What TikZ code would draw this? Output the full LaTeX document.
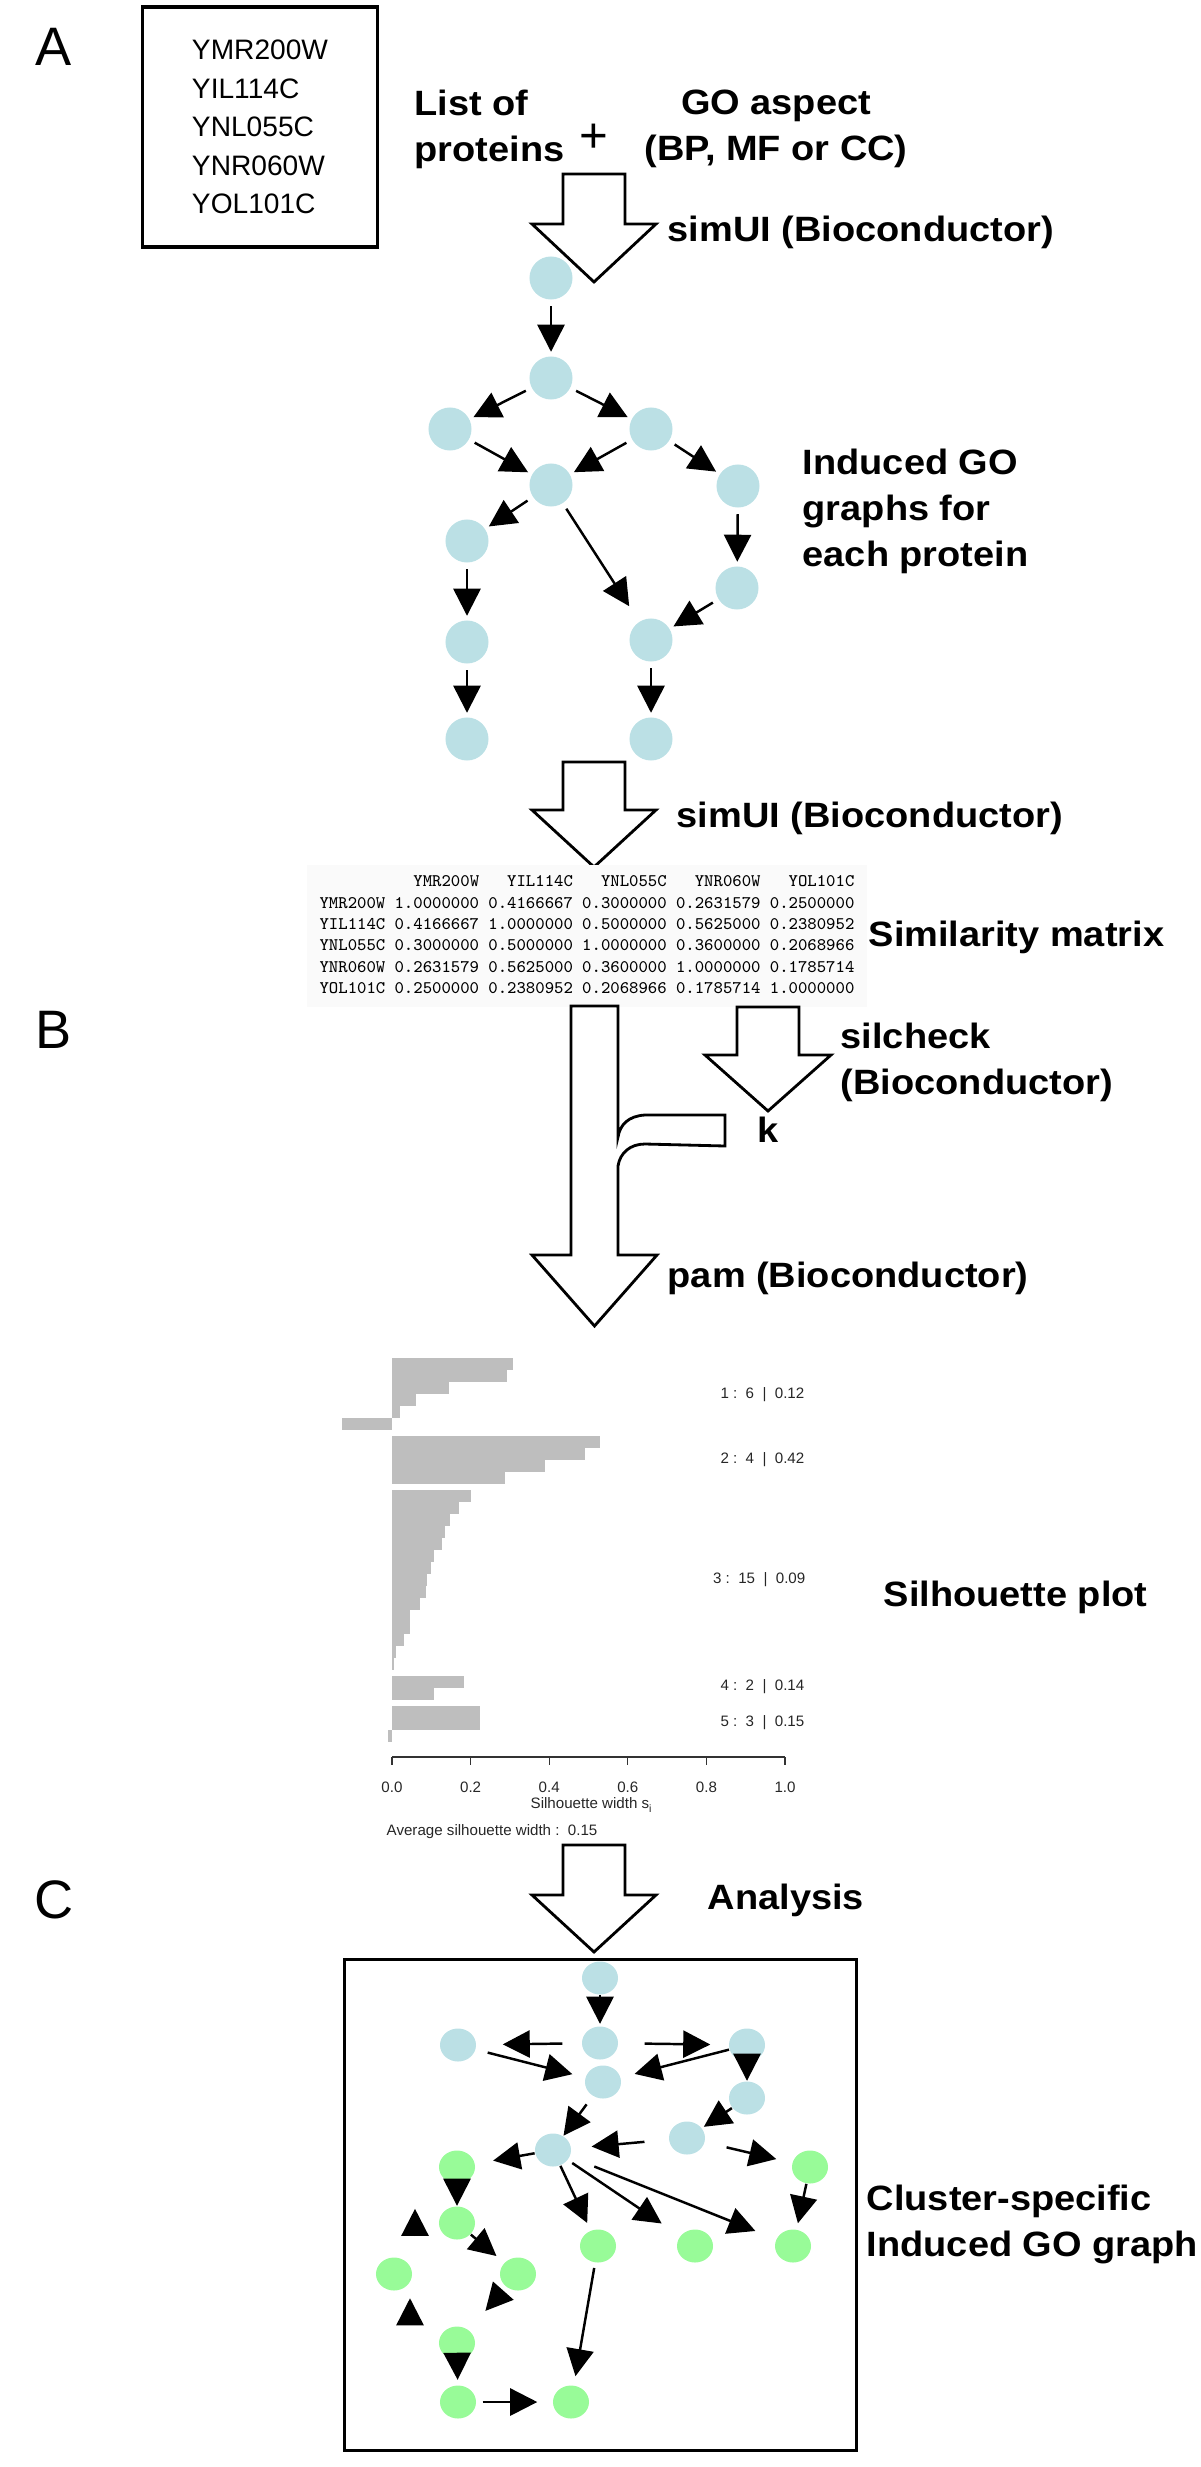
\documentclass[tikz,border=0pt]{standalone}
\usepackage{fontspec}
\setmainfont{Liberation Sans}
\newfontfamily\labelfont[FakeStretch=1.08]{Liberation Sans Bold}
\usetikzlibrary{arrows.meta}
\usetikzlibrary{positioning}
\usetikzlibrary{shapes.geometric}

\definecolor{goblue}{RGB}{187,224,229}
\definecolor{gogreen}{RGB}{152,251,152}
\definecolor{silgray}{RGB}{190,190,190}

\tikzset{
  % GO term of the induced graphs
  go term/.style = {
    circle,
    fill = goblue,
    minimum size = 0.43cm,
    inner sep = 0
  },
  % GO terms of the cluster graph
  cl term/.style = {
    ellipse,
    fill = goblue,
    minimum width = 0.36cm,
    minimum height = 0.33cm,
    inner sep = 0
  },
  cl hit/.style = {
    cl term,
    fill = gogreen
  },
  go edge/.style = {
    draw = black,
    line width = 0.7pt,
    -{Triangle[length=7.7pt, width=7.7pt]},
    shorten <= 0.06cm,
    shorten >= 0.04cm
  },
  % big white arrows between the steps
  flow/.style = {
    draw = black,
    fill = white,
    line width = 0.8pt
  }
}
\tikzset{
  step label/.style = {
    font = \labelfont\fontsize{10}{13.1}\selectfont,
    align = left,
    anchor = west,
    inner sep = 0
  },
  panel/.style = {
    font = \fontsize{15.4}{18}\selectfont,
    inner sep = 0
  },
  plot text/.style = {
    font = \fontsize{4.3}{5}\selectfont,
    text = black!85,
    inner sep = 0
  }
}

\begin{document}
\begin{tikzpicture}[x=0.01cm, y=-0.01cm]
    \useasboundingbox (0,0) rectangle (1200,2467);

    % A: input
    \node[panel] (panel-a) at (54,47) {A};
    \node[draw, line width=0.9pt, minimum width=2.35cm, minimum height=2.4cm,
      align=left, font=\fontsize{8}{10.95}\selectfont] (genes) at (260,127)
      {YMR200W\\YIL114C\\YNL055C\\YNR060W\\YOL101C};
    \node[step label] (proteins) at (414,129) {List of\\proteins};
    \node[font=\fontsize{14}{16}\selectfont, inner sep=0] (plus) at (594,138) {+};
    \node[step label, align=center, anchor=center] (aspect) at (776,129)
      {GO aspect\\(BP, MF or CC)};

    \coordinate (flow-1) at (594,174);
    \draw[flow] (flow-1) ++(-31,0) -- ++(62,0) -- ++(0,50) -- ++(31,0)
      -- ++(-62,58) -- ++(-62,-58) -- ++(31,0) -- cycle;
    \node[step label] (simui-1) at (667,232) {simUI (Bioconductor)};

    % induced GO graph
    \node[go term] (ga-1) at (551,278) {};
    \node[go term] (ga-2) at (551,378) {};
    \node[go term] (ga-3) at (450,429) {};
    \node[go term] (ga-4) at (651,429) {};
    \node[go term] (ga-5) at (551,485) {};
    \node[go term] (ga-6) at (738,486) {};
    \node[go term] (ga-7) at (467,541) {};
    \node[go term] (ga-8) at (737,588) {};
    \node[go term] (ga-9) at (467,642) {};
    \node[go term] (ga-10) at (651,640) {};
    \node[go term] (ga-11) at (467,739) {};
    \node[go term] (ga-12) at (651,739) {};

    \draw[go edge] (ga-1) -- (ga-2);
    \draw[go edge] (ga-2) -- (ga-3);
    \draw[go edge] (ga-2) -- (ga-4);
    \draw[go edge] (ga-3) -- (ga-5);
    \draw[go edge] (ga-4) -- (ga-5);
    \draw[go edge] (ga-4) -- (ga-6);
    \draw[go edge] (ga-5) -- (ga-7);
    \draw[go edge, shorten >=0.18cm] (ga-5) -- (ga-10);
    \draw[go edge] (ga-6) -- (ga-8);
    \draw[go edge] (ga-8) -- (ga-10);
    \draw[go edge] (ga-7) -- (ga-9);
    \draw[go edge] (ga-9) -- (ga-11);
    \draw[go edge] (ga-10) -- (ga-12);

    \node[step label] (induced) at (802,511) {Induced GO\\graphs for\\each protein};

    \coordinate (flow-2) at (594,762);
    \draw[flow] (flow-2) ++(-31,0) -- ++(62,0) -- ++(0,48) -- ++(31,0)
      -- ++(-62,57) -- ++(-62,-57) -- ++(31,0) -- cycle;
    \node[step label] (simui-2) at (676,818) {simUI (Bioconductor)};

    % similarity matrix
    \node[fill=black!2, inner xsep=3.6pt, inner ysep=2pt,
      font=\ttfamily\fontsize{5.03}{6.06}\selectfont] (simmatrix) at (587,936)
      {\setlength{\tabcolsep}{1.32pt}%
       \begin{tabular}{@{}l*{5}{r}@{}}
               & YMR200W   & YIL114C   & YNL055C   & YNR060W   & YOL101C\\
       YMR200W & 1.0000000 & 0.4166667 & 0.3000000 & 0.2631579 & 0.2500000\\
       YIL114C & 0.4166667 & 1.0000000 & 0.5000000 & 0.5625000 & 0.2380952\\
       YNL055C & 0.3000000 & 0.5000000 & 1.0000000 & 0.3600000 & 0.2068966\\
       YNR060W & 0.2631579 & 0.5625000 & 0.3600000 & 1.0000000 & 0.1785714\\
       YOL101C & 0.2500000 & 0.2380952 & 0.2068966 & 0.1785714 & 1.0000000
       \end{tabular}};
    \node[step label] (similarity) at (868,937) {Similarity matrix};

    % B: clustering
    \node[panel] (panel-b) at (54,1030) {B};

    \coordinate (flow-3) at (768,1007);
    \draw[flow] (flow-3) ++(-31,0) -- ++(62,0) -- ++(0,48) -- ++(32,0)
      -- ++(-63,56) -- ++(-63,-56) -- ++(32,0) -- cycle;
    \node[step label] (silcheck) at (840,1062) {silcheck\\(Bioconductor)};
    \node[step label, anchor=center] (k) at (768,1130) {k};

    \coordinate (flow-4) at (571,1006);
    \draw[flow] (flow-4) -- ++(47,0) -- (618,1137)
      .. controls (620,1125) and (628,1116) .. (645,1115)
      -- (725,1115) -- (725,1146) -- (645,1144)
      .. controls (630,1144) and (620,1153) .. (618,1166)
      -- (618,1255) -- (657,1255) -- (594.5,1326) -- (532,1255)
      -- (571,1255) -- cycle;
    \node[step label] (pam) at (667,1278) {pam (Bioconductor)};

    % silhouette plot
    \foreach \v [count=\k from 0] in {0.308,0.293,0.144,0.062,0.021,-0.127}
      \fill[silgray] (392,1358+12*\k) rectangle ++({393*(\v)},12);
    \foreach \v [count=\k from 0] in {0.530,0.490,0.390,0.288}
      \fill[silgray] (392,1436+12*\k) rectangle ++({393*(\v)},12);
    \foreach \v [count=\k from 0] in {0.200,0.170,0.147,0.136,0.127,0.106,0.098,
      0.089,0.087,0.070,0.047,0.047,0.031,0.011,0.005}
      \fill[silgray] (392,1490+12*\k) rectangle ++({393*(\v)},12);
    \foreach \v [count=\k from 0] in {0.182,0.107}
      \fill[silgray] (392,1676+12*\k) rectangle ++({393*(\v)},12);
    \foreach \v [count=\k from 0] in {0.225,0.223,-0.010}
      \fill[silgray] (392,1706+12*\k) rectangle ++({393*(\v)},12);

    \node[plot text, anchor=east] (sil-1) at (805,1395) {1 :\ \ 6\ \ |\ \ 0.12};
    \node[plot text, anchor=east] (sil-2) at (805,1460) {2 :\ \ 4\ \ |\ \ 0.42};
    \node[plot text, anchor=east] (sil-3) at (806,1580) {3 :\ \ 15\ \ |\ \ 0.09};
    \node[plot text, anchor=east] (sil-4) at (805,1687) {4 :\ \ 2\ \ |\ \ 0.14};
    \node[plot text, anchor=east] (sil-5) at (805,1723) {5 :\ \ 3\ \ |\ \ 0.15};

    \draw[black!80, line width=0.3pt] (392,1757) -- (785,1757);
    \foreach \t [count=\n] in {0.0,0.2,0.4,0.6,0.8,1.0} {
      \draw[black!80, line width=0.3pt] ({392+393*\t},1757) -- ++(0,8);
      \node[plot text] (tick-\n) at ({392+393*\t},1787) {\t};
    }
    \node[plot text] (axis-title) at (592,1805) {Silhouette width s\textsubscript{i}};
    \node[plot text, anchor=west] (average) at (386,1832)
      {Average silhouette width :\ \ 0.15};
    \node[step label] (silhouette) at (883,1597) {Silhouette plot};

    % C: analysis
    \node[panel] (panel-c) at (54,1900) {C};
    \coordinate (flow-5) at (594,1845);
    \draw[flow] (flow-5) ++(-31,0) -- ++(62,0) -- ++(0,50) -- ++(31,0)
      -- ++(-62,57) -- ++(-62,-57) -- ++(31,0) -- cycle;
    \node[step label] (analysis) at (707,1900) {Analysis};

    \node[draw, line width=0.85pt, minimum width=5.11cm, minimum height=4.9cm,
      inner sep=0] (cluster-box) at (600.5,2205) {};

    \node[cl term] (gc-1) at (600,1978) {};
    \node[cl term] (gc-2) at (600,2043) {};
    \node[cl term] (gc-3) at (458,2045) {};
    \node[cl term] (gc-4) at (747,2045) {};
    \node[cl term] (gc-5) at (603,2082) {};
    \node[cl term] (gc-6) at (747,2098) {};
    \node[cl term] (gc-7) at (553,2150) {};
    \node[cl term] (gc-8) at (687,2138) {};
    \node[cl hit] (gc-9) at (457,2167) {};
    \node[cl hit] (gc-10) at (810,2167) {};
    \node[cl hit] (gc-11) at (457,2223) {};
    \node[cl hit] (gc-12) at (598,2246) {};
    \node[cl hit] (gc-13) at (695,2246) {};
    \node[cl hit] (gc-14) at (793,2246) {};
    \node[cl hit] (gc-15) at (394,2274) {};
    \node[cl hit] (gc-16) at (518,2274) {};
    \node[cl hit] (gc-17) at (457,2343) {};
    \node[cl hit] (gc-18) at (458,2402) {};
    \node[cl hit] (gc-19) at (571,2402) {};

    \coordinate (up-1) at (415,2236);
    \coordinate (up-2) at (410,2323);

    \draw[go edge, shorten <=0, shorten >=0.02cm] (gc-1) -- (gc-2);
    \draw[go edge, shorten <=0.19cm, shorten >=0.26cm] (gc-2) -- (gc-3);
    \draw[go edge, shorten <=0.26cm, shorten >=0.18cm] (gc-2) -- (gc-4);
    \draw[go edge, shorten <=0.12cm, shorten >=0.13cm] (gc-3) -- (gc-5);
    \draw[go edge, shorten <=0, shorten >=0.14cm] (gc-4) -- (gc-5);
    \draw[go edge, shorten <=0, shorten >=0] (gc-4) -- (gc-6);
    \draw[go edge, shorten <=0.1cm, shorten >=0] (gc-5) -- (gc-7);
    \draw[go edge, shorten <=0, shorten >=0.02cm] (gc-6) -- (gc-8);
    \draw[go edge, shorten <=0.24cm, shorten >=0.2cm] (gc-8) -- (gc-7);
    \draw[go edge, shorten <=0.22cm, shorten >=0.16cm] (gc-8) -- (gc-10);
    \draw[go edge, shorten <=0, shorten >=0.18cm] (gc-7) -- (gc-9);
    \draw[go edge, shorten <=0, shorten >=0.08cm] (gc-7) -- (gc-12);
    \draw[go edge, shorten <=0.05cm, shorten >=0.22cm] (gc-7) -- (gc-13);
    \draw[go edge, shorten <=0.26cm, shorten >=0.22cm] (gc-7) -- (gc-14);
    \draw[go edge, shorten <=0, shorten >=0.06cm] (gc-10) -- (gc-14);
    \draw[go edge, shorten <=0, shorten >=0] (gc-9) -- (gc-11);
    \draw[go edge, shorten <=0, shorten >=0.1cm] (gc-11) -- (gc-16);
    \draw[go edge, shorten <=0.05cm, shorten >=0.25cm] (gc-16) -- (gc-17);
    \draw[go edge, shorten <=0, shorten >=0.05cm] (gc-17) -- (gc-18);
    \draw[go edge, shorten <=0.06cm, shorten >=0.15cm] (gc-18) -- (gc-19);
    \draw[go edge, shorten <=0.05cm, shorten >=0.09cm] (gc-12) -- (gc-19);
    \draw[go edge, shorten <=0, shorten >=0.03cm] (up-1) -- (up-1 |- gc-11.north);
    \draw[go edge, shorten <=0, shorten >=0.07cm] (up-2) -- (up-2 |- gc-15.south);

    \node[step label] (cluster-graph) at (866,2224) {Cluster-specific\\Induced GO graph};
  \end{tikzpicture}
\end{document}
